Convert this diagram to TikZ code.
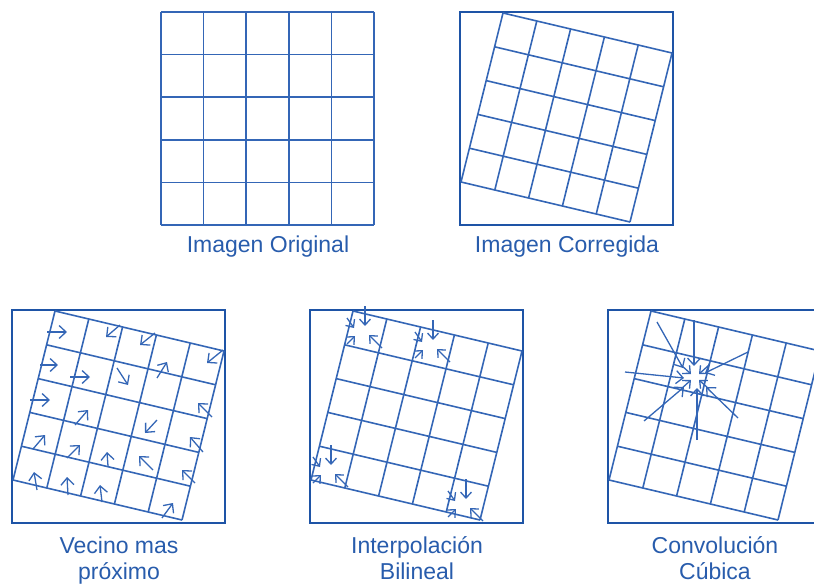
\documentclass[tikz,border=0pt]{standalone}
\usepackage{fontspec}
\setmainfont{Liberation Sans}
\usepackage{xcolor}
\usetikzlibrary{arrows.meta,calc}
\definecolor{gridblue}{RGB}{52,102,182}
\definecolor{frameblue}{RGB}{30,84,166}
\definecolor{textblue}{RGB}{40,92,172}

\begin{document}
\begin{tikzpicture}[x=1pt,y=-1pt,>={Straight Barb[length=7pt,width=13pt]},
  gridline/.style={draw=gridblue,line width=1.6pt},
  frame/.style={draw=frameblue,line width=2.2pt},
  vec/.style={->,draw=gridblue,line width=1.3pt},
  smallvec/.style={vec,>={Straight Barb[length=6pt,width=11pt]}},
  caption/.style={font=\fontsize{23}{26}\selectfont,text=textblue,align=center,inner sep=0pt}]
  \useasboundingbox (0,0) rectangle (814,586);
  \clip (0,0) rectangle (814,586);
  % original image
  \foreach \i in {0,...,5}{
    \draw[gridline] (161+42.6*\i,12) -- (161+42.6*\i,225);
    \draw[gridline] (161,12+42.6*\i) -- (374,12+42.6*\i);
  }
  % rotated grids in frames
  \foreach \bx/\by in {460/12,12/310,310/310,608/310}{
    \draw[frame] (\bx,\by) rectangle ++(213,213);
    \foreach \i in {0,...,5}{
      \draw[gridline] ($(\bx+43,\by+1)+\i*(33.8,8)$) -- ++(-42,169);
      \draw[gridline] ($(\bx+43,\by+1)+\i*(-8.4,33.8)$) -- ++(169,40);
    }
  }
  % nearest neighbour
  \foreach \ax/\ay/\hx/\hy in {47/332/67/332, 120/325/106/337, 155/333/140/345, 223/350/207/363,
      40/365/58/365, 70/377/90/377, 117/368/128/385, 157/378/167/362,
      30/400/50/400, 75/425/88/410, 157/420/145/433, 212/417/198/403,
      33/449/45/435, 67/458/80/445, 108/466/107/452, 153/470/139/456, 203/452/190/437,
      37/490/34/472, 68/495/67/477, 102/502/100/485, 195/483/182/470, 162/518/173/503}
    \draw[vec] (\ax,\ay) -- (\hx,\hy);
  % bilinear
  \foreach \cx/\cy in {362/333,430/347,328/472,463/506}{
    \draw[smallvec] (\cx-15,\cy-15) -- (\cx-8,\cy-5);
    \draw[smallvec] (\cx+3,\cy-27) -- (\cx+3,\cy-7);
    \draw[smallvec] (\cx-15,\cy+11) -- (\cx-7,\cy+3);
    \draw[smallvec] (\cx+20,\cy+15) -- (\cx+7,\cy+2);
  }
  % cubic convolution
  \foreach \ax/\ay/\hx/\hy in {657/322/683/368, 694/320/694/366, 748/352/705/373, 625/372/684/378,
      644/421/684/387, 738/418/706/387, 697/440/697/388}
    \draw[vec] (\ax,\ay) -- (\hx,\hy);
  \foreach \dx/\dy in {-1/-1,1/-1,-1/1,1/1}
    \draw[smallvec] (695+14*\dx,377+12*\dy) -- (695+4*\dx,377+3*\dy);
  % captions
  \node[caption,anchor=base] (orig) at (268,252) {Imagen Original};
  \node[caption,anchor=base] (corr) at (567,252) {Imagen Corregida};
  \node[caption,anchor=base] (near) at (119,579) {Vecino mas\\próximo};
  \node[caption,anchor=base] (bil) at (417,579) {Interpolación\\Bilineal};
  \node[caption,anchor=base] (cub) at (715,579) {Convolución\\Cúbica};
\end{tikzpicture}
\end{document}
